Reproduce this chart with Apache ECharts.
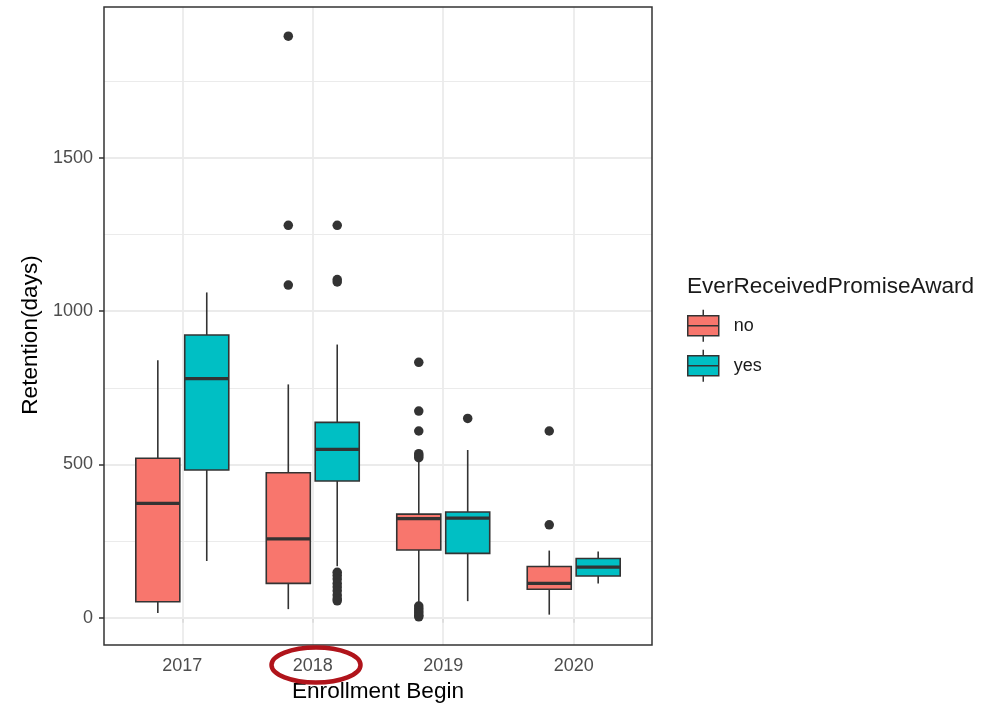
<!DOCTYPE html>
<html>
<head>
<meta charset="utf-8">
<script src="https://cdn.jsdelivr.net/npm/echarts@6/dist/echarts.min.js"></script>
<style>
  html, body { margin: 0; padding: 0; background: #ffffff; }
  #chart { width: 996px; height: 705px; }
</style>
</head>
<body>
<div id="chart"></div>
<script>
// ---- data ----
const categories = ['2017', '2018', '2019', '2020'];
const groups = ['no', 'yes'];
// [min whisker, Q1, median, Q3, max whisker]
const boxNo  = [[15, 52, 373, 520, 840], [28, 112, 257, 473, 761], [50, 221, 323, 338, 512], [10, 93, 112, 167, 219]];
const boxYes = [[185, 482, 780, 922, 1061], [168, 446, 549, 637, 891], [54, 210, 325, 345, 547], [112, 136, 165, 193, 216]];
const outliersNo  = [[], [1897, 1280, 1085], [833, 674, 609, 535, 528, 522, 38, 30, 22, 15, 8, 3], [609, 303]];
const outliersYes = [[], [1280, 1103, 1095, 148, 138, 126, 112, 100, 88, 74, 62, 55], [650], []];
const yTicks = [0, 500, 1000, 1500];
const yMinorTicks = [250, 750, 1250, 1750];
const legendTitle = 'EverReceivedPromiseAward';

// ---- style / layout constants ----
const COLORS = { no: '#F8766D', yes: '#00BFC4' };
const DODGE = 0.1875;     // half of dodge width 0.75 / 2
const BOX_W = 0.3375;     // box width in category units
const INK = '#333333';
const FONT = '"Liberation Sans", Arial, Helvetica, sans-serif';

function boxRows(arr) {
  return arr.map((b, i) => [i + 1, b[0], b[1], b[2], b[3], b[4]]);
}
function outlierRows(arr, off) {
  const rows = [];
  arr.forEach((vals, i) => vals.forEach(v => rows.push([i + 1 + off, v])));
  return rows;
}
function makeRender(offset, fill) {
  return function (params, api) {
    const xc = api.value(0) + offset;
    const pMin = api.coord([xc, api.value(1)]);
    const pQ1 = api.coord([xc, api.value(2)]);
    const pMed = api.coord([xc, api.value(3)]);
    const pQ3 = api.coord([xc, api.value(4)]);
    const pMax = api.coord([xc, api.value(5)]);
    const left = api.coord([xc - BOX_W / 2, 0])[0];
    const right = api.coord([xc + BOX_W / 2, 0])[0];
    return {
      type: 'group',
      children: [
        { type: 'line', shape: { x1: pMin[0], y1: pMin[1], x2: pQ1[0], y2: pQ1[1] }, style: { stroke: INK, lineWidth: 1.6 } },
        { type: 'line', shape: { x1: pQ3[0], y1: pQ3[1], x2: pMax[0], y2: pMax[1] }, style: { stroke: INK, lineWidth: 1.6 } },
        { type: 'rect', shape: { x: left, y: pQ3[1], width: right - left, height: pQ1[1] - pQ3[1] }, style: { fill: fill, stroke: INK, lineWidth: 1.6 } },
        { type: 'line', shape: { x1: left, y1: pMed[1], x2: right, y2: pMed[1] }, style: { stroke: INK, lineWidth: 3.2 } }
      ]
    };
  };
}

const gridLines = []
  .concat(yMinorTicks.map(v => ({ yAxis: v, lineStyle: { width: 1.2 } })))
  .concat(yTicks.map(v => ({ yAxis: v, lineStyle: { width: 1.8 } })))
  .concat(categories.map((c, i) => ({ xAxis: i + 1, lineStyle: { width: 1.8 } })));

const legendIcon = 'path://M15.5,0 L15.5,6 M0,6 L31,6 L31,26 L0,26 Z M0,16 L31,16 M15.5,26 L15.5,32';

const chart = echarts.init(document.getElementById('chart'), null, { renderer: 'canvas' });
chart.setOption({
  animation: false,
  backgroundColor: '#ffffff',
  textStyle: { fontFamily: FONT },
  title: {
    text: legendTitle,
    left: 687, top: 275,
    padding: 0,
    textStyle: { fontFamily: FONT, fontSize: 22.6, fontWeight: 'normal', color: '#1a1a1a' }
  },
  legend: {
    data: groups.map(g => ({ name: g, icon: legendIcon })),
    orient: 'vertical',
    left: 687, top: 309,
    padding: 0,
    itemWidth: 31, itemHeight: 32, itemGap: 6.5,
    itemStyle: { borderColor: INK, borderWidth: 1.5 },
    textStyle: { fontFamily: FONT, fontSize: 18, color: '#1a1a1a', padding: [0, 0, 0, 10] },
    selectedMode: false
  },
  grid: {
    left: 104, top: 7, right: 344, bottom: 60,
    outerBoundsMode: 'none', containLabel: false,
    show: true, borderColor: INK, borderWidth: 1.5, backgroundColor: 'transparent', z: 10
  },
  xAxis: {
    type: 'value', min: 0.4, max: 4.6,
    name: 'Enrollment Begin', nameLocation: 'middle', nameGap: 35,
    nameTextStyle: { fontFamily: FONT, fontSize: 22.6, color: '#000000' },
    axisLine: { show: false },
    axisTick: { show: true, length: 5, customValues: [1, 2, 3, 4], lineStyle: { color: INK, width: 1.5 } },
    axisLabel: { customValues: [1, 2, 3, 4], margin: 12, fontFamily: FONT, fontSize: 18, color: '#4d4d4d',
      formatter: v => categories[Math.round(v) - 1] || '' },
    splitLine: { show: false }
  },
  yAxis: {
    type: 'value', min: -89, max: 1992,
    name: 'Retention(days)', nameLocation: 'middle', nameGap: 42,
    nameTextStyle: { fontFamily: FONT, fontSize: 22.6, color: '#000000', padding: [0, 18, 0, 0] },
    axisLine: { show: false },
    axisTick: { show: true, length: 5, customValues: yTicks, lineStyle: { color: INK, width: 1.5 } },
    axisLabel: { customValues: yTicks, margin: 11, fontFamily: FONT, fontSize: 18, color: '#4d4d4d',
      formatter: v => String(v) },
    splitLine: { show: false }
  },
  series: [
    {
      name: 'no', type: 'custom', z: 3,
      itemStyle: { color: COLORS.no },
      renderItem: makeRender(-DODGE, COLORS.no),
      encode: { x: 0, y: [1, 2, 3, 4, 5] },
      data: boxRows(boxNo)
    },
    {
      name: 'yes', type: 'custom', z: 3,
      itemStyle: { color: COLORS.yes },
      renderItem: makeRender(DODGE, COLORS.yes),
      encode: { x: 0, y: [1, 2, 3, 4, 5] },
      data: boxRows(boxYes)
    },
    {
      name: 'no outliers', type: 'scatter', z: 4,
      symbol: 'circle', symbolSize: 9.5,
      itemStyle: { color: INK, opacity: 1 },
      data: outlierRows(outliersNo, -DODGE),
      markLine: {
        silent: true, symbol: 'none', z: 1, animation: false,
        label: { show: false },
        lineStyle: { color: '#ebebeb', type: 'solid' },
        emphasis: { disabled: true },
        data: gridLines
      }
    },
    {
      name: 'yes outliers', type: 'scatter', z: 4,
      symbol: 'circle', symbolSize: 9.5,
      itemStyle: { color: INK, opacity: 1 },
      data: outlierRows(outliersYes, DODGE)
    }
  ],
  graphic: [
    {
      type: 'ellipse', z: 100,
      shape: { cx: 316, cy: 665, rx: 44.5, ry: 17.5 },
      style: { fill: 'none', stroke: '#B0141B', lineWidth: 4.5 }
    }
  ]
});
</script>
</body>
</html>
